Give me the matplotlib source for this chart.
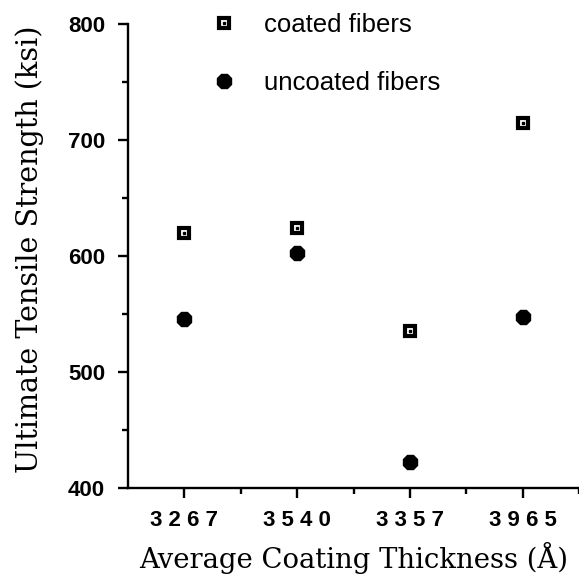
import matplotlib
matplotlib.use("Agg")
import matplotlib.pyplot as plt
from matplotlib.ticker import MultipleLocator, FixedLocator
from matplotlib.lines import Line2D
import numpy as np

categories = ["3267", "3540", "3357", "3965"]
coated = [620, 624, 535, 715]
uncoated = [546, 603, 422, 547]
yticks = [400, 500, 600, 700, 800]

fig = plt.figure(figsize=(5.79, 5.82), dpi=100)
ax = fig.add_axes([128/579, 1-488/582, 1-128/579, (488-24)/582])

x = np.arange(1, len(categories) + 1)

# uncoated: filled octagons
ax.plot(x, uncoated, linestyle="none", marker="8", markersize=10.8,
        color="black", clip_on=False, zorder=3)
# coated: black square with white hole and centre dot
ax.plot(x, coated, linestyle="none", marker="s", markersize=7.2,
        markerfacecolor="white", markeredgecolor="black", markeredgewidth=3.0,
        clip_on=False, zorder=3)
ax.plot(x, coated, linestyle="none", marker="s", markersize=2.0,
        color="black", clip_on=False, zorder=4)

ax.set_xlim(0.5, 4.5)
ax.set_ylim(400, 800)

for s in ["top", "right"]:
    ax.spines[s].set_visible(False)
for s in ["left", "bottom"]:
    ax.spines[s].set_linewidth(1.7)

ax.set_yticks(yticks)
ax.yaxis.set_minor_locator(MultipleLocator(50))
ax.set_xticks(x)
ax.set_xticklabels([" ".join(c) for c in categories])
ax.xaxis.set_minor_locator(FixedLocator(np.arange(1.5, 5.0, 1.0)))

ax.tick_params(axis="both", which="major", direction="out", length=7.5, width=1.7,
               labelsize=16)
ax.tick_params(axis="both", which="minor", direction="out", length=4.5, width=1.7)
ax.tick_params(axis="y", which="major", pad=9)
ax.tick_params(axis="x", which="major", pad=8)
for lab in ax.get_xticklabels() + ax.get_yticklabels():
    lab.set_fontfamily("Liberation Sans")
    lab.set_fontweight("bold")

ax.set_xlabel("Average Coating Thickness (Å)", fontfamily="DejaVu Serif",
              fontsize=19.8, labelpad=8)
ax.set_ylabel("Ultimate Tensile Strength (ksi)", fontfamily="DejaVu Serif",
              fontsize=20.6)
ax.yaxis.set_label_coords(-0.186, 0.515)

h1 = Line2D([], [], linestyle="none", marker="s", markersize=7.2,
            markerfacecolor="white", markeredgecolor="black", markeredgewidth=3.0)
h1b = Line2D([], [], linestyle="none", marker="s", markersize=2.0, color="black")
h2 = Line2D([], [], linestyle="none", marker="8", markersize=10.8, color="black")
leg = ax.legend([(h1, h1b), h2], ["coated fibers", "uncoated fibers"],
                loc="upper left", bbox_to_anchor=(0.133, 1.074), frameon=False,
                prop={"family": "Liberation Sans", "size": 18.5},
                labelspacing=1.33, handletextpad=1.05, handlelength=1.0)

fig.savefig("out.png", dpi=100)
